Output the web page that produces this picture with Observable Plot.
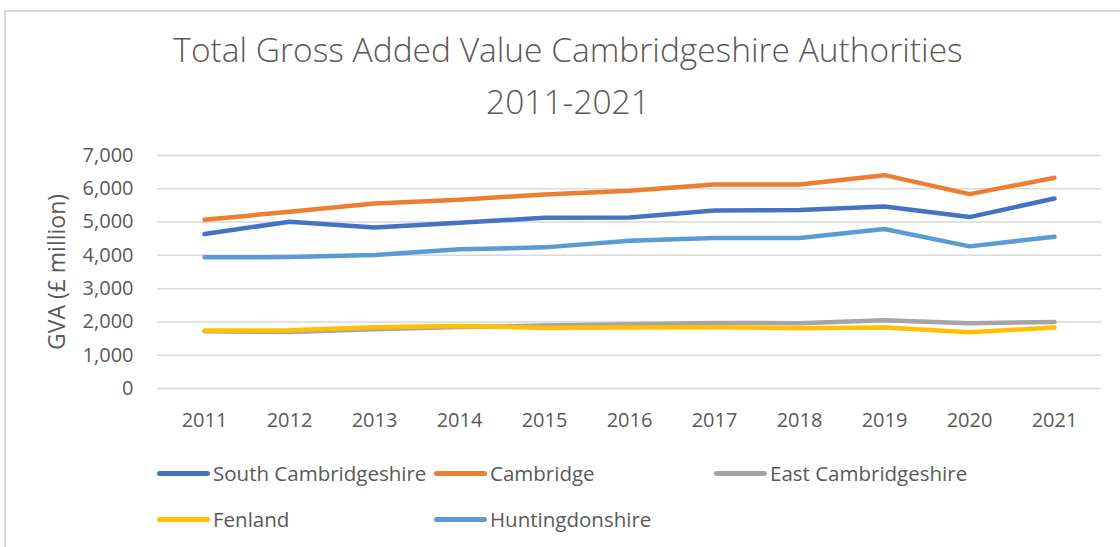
<!DOCTYPE html>
<html><head><meta charset="utf-8">
<script src="https://cdn.jsdelivr.net/npm/d3@7"></script>
<script src="https://cdn.jsdelivr.net/npm/@observablehq/plot@0.6"></script>
<style>
html,body{margin:0;padding:0;background:#fff;}
#page{position:relative;width:1120px;height:547px;overflow:hidden;font-family:"Open Sans",sans-serif;color:#595959;}
#frame{position:absolute;left:4px;top:10px;width:1200px;height:600px;border-left:2px solid #d9d9d9;border-top:2px solid #d9d9d9;box-sizing:border-box;}
#title{position:absolute;left:0;top:0;width:1136px;text-align:center;font-size:33.5px;line-height:52px;padding-top:23px;font-weight:300;}
#chart{position:absolute;left:0;top:140px;}
.leg{position:absolute;display:flex;align-items:center;height:30px;font-size:20.5px;white-space:nowrap;}
.sw{width:53px;height:5px;border-radius:3px;margin-right:3px;}
</style>
</head><body>
<div id="page">
  <div id="frame"></div>
  <div id="title"></div>
  <div id="chart"></div>
</div>
<script>
const titleLines = ["Total Gross Added Value Cambridgeshire Authorities", "2011-2021"];
const yLabel = "GVA (£ million)";
const years = [2011, 2012, 2013, 2014, 2015, 2016, 2017, 2018, 2019, 2020, 2021];
const yTicks = [0, 1000, 2000, 3000, 4000, 5000, 6000, 7000];

const seriesNames = ["South Cambridgeshire", "Cambridge", "East Cambridgeshire", "Fenland", "Huntingdonshire"];
const seriesColors = ["#4472C4", "#ED7D31", "#A5A5A5", "#FFC000", "#5B9BD5"];

const southCambridgeshire = [4640, 5010, 4840, 4980, 5130, 5140, 5350, 5360, 5470, 5150, 5710];
const cambridge = [5070, 5310, 5560, 5670, 5830, 5940, 6130, 6130, 6410, 5840, 6330];
const eastCambridgeshire = [1720, 1700, 1780, 1850, 1890, 1930, 1970, 1960, 2050, 1960, 2000];
const fenland = [1740, 1750, 1840, 1880, 1820, 1830, 1840, 1810, 1830, 1690, 1830];
const huntingdonshire = [3940, 3950, 4010, 4180, 4240, 4440, 4520, 4520, 4790, 4270, 4560];

const seriesValues = [southCambridgeshire, cambridge, eastCambridgeshire, fenland, huntingdonshire];

document.getElementById("title").innerHTML = titleLines.join("<br>");

const rows = seriesNames.flatMap((name, s) =>
  years.map((year, i) => ({series: name, year, value: seriesValues[s][i]})));

const chart = Plot.plot({
  width: 1120, height: 300,
  marginLeft: 157, marginRight: 19, marginTop: 15, marginBottom: 52,
  style: {fontFamily: "Open Sans", fontSize: "20px", color: "#595959", background: "transparent"},
  x: {type: "point", domain: years, padding: 0.5, label: null, tickSize: 0, tickPadding: 24, tickFormat: d => String(d)},
  y: {domain: [0, 7000], ticks: yTicks, tickFormat: d3.format(","), label: null, tickSize: 0, tickPadding: 24},
  color: {domain: seriesNames, range: seriesColors},
  marks: [
    Plot.ruleY(yTicks, {stroke: "#d9d9d9", strokeWidth: 1.5}),
    Plot.line(rows, {x: "year", y: "value", stroke: "series", z: "series", strokeWidth: 4.5, strokeLinecap: "round", strokeLinejoin: "round"}),
    Plot.text([yLabel], {frameAnchor: "left", dx: -100, rotate: -90, textAnchor: "middle", fontSize: 23, fill: "#595959"})
  ]
});
document.getElementById("chart").appendChild(chart);

// legend
const page = document.getElementById("page");
const legCols = [157, 434, 714];
const legRows = [473, 519];
seriesNames.forEach((name, i) => {
  const el = document.createElement("div");
  el.className = "leg";
  el.style.left = legCols[i % 3] + "px";
  el.style.top = (legRows[Math.floor(i / 3)] - 15) + "px";
  el.innerHTML = `<div class="sw" style="background:${seriesColors[i]}"></div><span>${name}</span>`;
  page.appendChild(el);
});
</script>
</body></html>
